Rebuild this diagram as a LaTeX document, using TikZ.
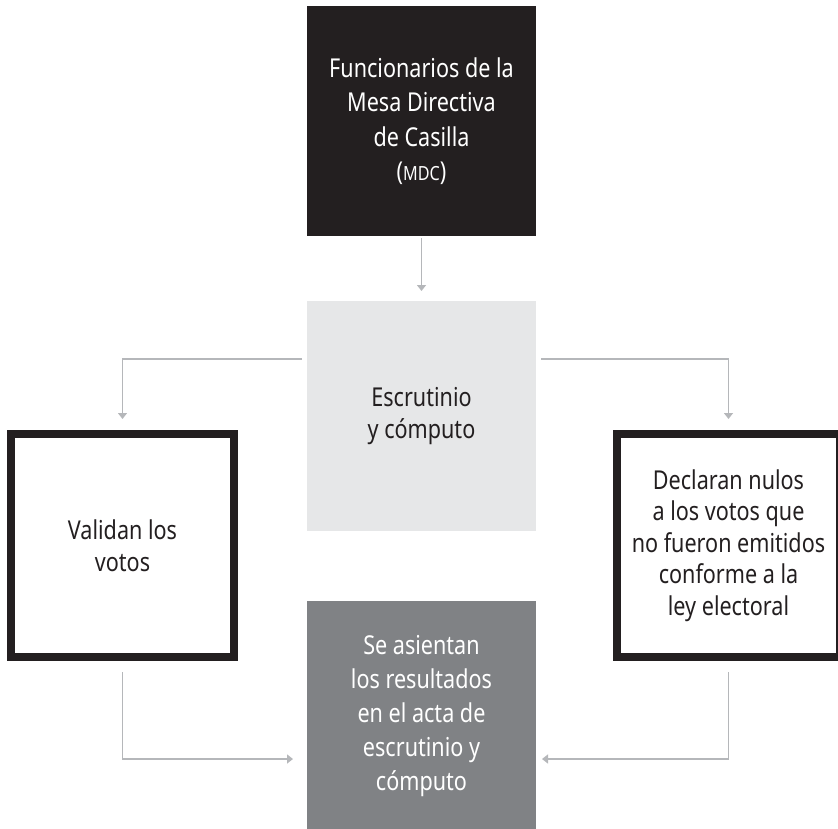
\documentclass[tikz,border=0pt]{standalone}
\usepackage{fontspec}
\setmainfont[FakeStretch=0.83]{Noto Sans}
\usetikzlibrary{arrows.meta}
\definecolor{darkbox}{HTML}{231F20}
\definecolor{lightbox}{HTML}{E6E7E8}
\definecolor{midbox}{HTML}{808285}
\definecolor{arrowgray}{HTML}{B5B7BA}
\tikzset{
  sq/.style={minimum width=229pt, minimum height=230pt, inner sep=0pt, outer sep=0pt, align=center,
    font=\fontsize{26}{34.5}\selectfont},
  darksq/.style={sq, fill=darkbox, text=white},
  lightsq/.style={sq, fill=lightbox, text=darkbox, font=\fontsize{26}{32.5}\selectfont},
  midsq/.style={sq, fill=midbox, text=white, font=\fontsize{26}{33.8}\selectfont},
  framesq/.style={draw=darkbox, line width=8pt, minimum size=223pt, inner sep=0pt, outer sep=4pt,
    align=center, text=darkbox, font=\fontsize{26}{31.5}\selectfont},
  arr/.style={draw=arrowgray, line width=1.4pt, -{Triangle[width=9pt,length=6pt]}}
}
\begin{document}
\begin{tikzpicture}[x=1pt, y=-1pt]
\useasboundingbox (0,0) rectangle (838,828);
\clip (0,0) rectangle (838,828);
\node[darksq] (top) at (421.5,121) {Funcionarios de la\\Mesa Directiva\\de Casilla\\({\fontsize{19.5}{34}\selectfont MDC})};
\node[lightsq] (mid) at (421.5,416) {Escrutinio\\y cómputo};
\node[midsq] (bot) at (421.5,716) {Se asientan\\los resultados\\en el acta de\\escrutinio y\\cómputo};
\node[framesq] (left) at (122.5,545.5) {Validan los\\votos};
\node[framesq] (right) at (728.5,545.5) {Declaran nulos\\a los votos que\\no fueron emitidos\\conforme a la\\ley electoral};
\draw[arr] ([yshift=-2pt]top.south) -- ([yshift=10pt]mid.north);
\draw[arr] ([shift={(-5pt,57pt)}]mid.west) -| ([yshift=11pt]left.north);
\draw[arr] ([shift={(5pt,57pt)}]mid.east) -| ([yshift=11pt]right.north);
\draw[arr] ([yshift=-11pt]left.south) |- ([shift={(-14pt,-43pt)}]bot.west);
\draw[arr] ([yshift=-11pt]right.south) |- ([shift={(6pt,-43pt)}]bot.east);
\end{tikzpicture}
\end{document}
